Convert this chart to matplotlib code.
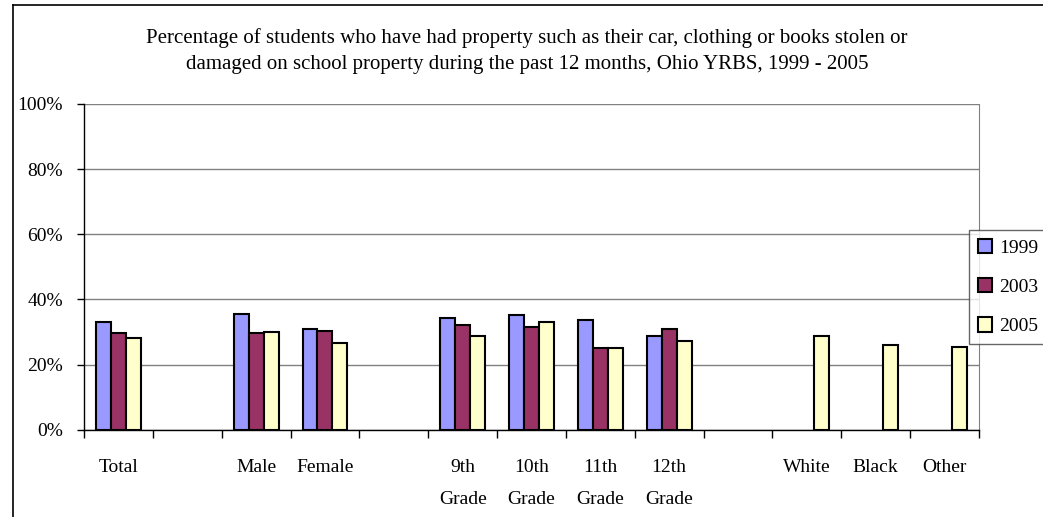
import numpy as np
import matplotlib.pyplot as plt
from matplotlib.lines import Line2D

# Data
categories = ["Total", "", "Male", "Female", "", "9th\nGrade", "10th\nGrade",
              "11th\nGrade", "12th\nGrade", "", "White", "Black", "Other"]
years = ["1999", "2003", "2005"]
v1999 = [33.2, np.nan, 35.6, 30.8, np.nan, 34.4, 35.2, 33.8, 28.9, np.nan, np.nan, np.nan, np.nan]
v2003 = [29.7, np.nan, 29.7, 30.2, np.nan, 32.1, 31.4, 25.1, 30.9, np.nan, np.nan, np.nan, np.nan]
v2005 = [28.3, np.nan, 30.1, 26.6, np.nan, 28.9, 33.2, 25.1, 27.1, np.nan, 28.9, 26.0, 25.4]
colors = ["#9999FF", "#993366", "#FFFFCC"]

plt.rcParams['font.family'] = ['Liberation Serif', 'DejaVu Serif']

fig = plt.figure(figsize=(10.43, 5.17), dpi=100)
ax = fig.add_axes([84 / 1043, 1 - 429.7 / 517, (979 - 84) / 1043, (429.7 - 104) / 517])

x = np.arange(len(categories))
w = 0.217
for i, (vals, c, lab) in enumerate(zip([v1999, v2003, v2005], colors, years)):
    ax.bar(x + (i - 1) * w, vals, width=w, color=c, edgecolor="black",
           linewidth=1.5, label=lab, zorder=3)

ax.set_xlim(-0.5, len(categories) - 0.5)
ax.set_ylim(0, 100)
ax.set_yticks(range(0, 101, 20))
ax.set_yticklabels([f"{v}%" for v in range(0, 101, 20)], fontsize=14)
ax.yaxis.grid(True, color="#808080", linewidth=1, zorder=0)

# category labels between boundary ticks
ax.set_xticks(np.arange(len(categories) + 1) - 0.5)
ax.set_xticklabels([])
ax.set_xticks(x, minor=True)
ax.set_xticklabels(categories, minor=True, fontsize=14, va="top", linespacing=2.2)
ax.tick_params(axis="x", which="minor", length=0, pad=21)
ax.tick_params(axis="x", which="major", length=6, direction="out", width=1)
ax.tick_params(axis="y", length=5, direction="out", width=1, pad=10)

ax.spines["top"].set_visible(False)
ax.spines["right"].set_color("#808080")
ax.spines["left"].set_linewidth(1)
ax.spines["bottom"].set_linewidth(1)

fig.text(527 / 1043, 1 - 38 / 517,
         "Percentage of students who have had property such as their car, clothing or books stolen or",
         ha="center", va="center", fontsize=15)
fig.text(527 / 1043, 1 - 64 / 517,
         "damaged on school property during the past 12 months, Ohio YRBS, 1999 - 2005",
         ha="center", va="center", fontsize=15)

# outer chart frame (extends past right/bottom edge)
fig.add_artist(Line2D([13 / 1043, 13 / 1043], [0, 1 - 5 / 517], color="black", linewidth=1.2))
fig.add_artist(Line2D([13 / 1043, 1], [1 - 5 / 517, 1 - 5 / 517], color="black", linewidth=1.2))

leg = fig.legend(loc="upper left", bbox_to_anchor=(969 / 1043, 1 - 230 / 517),
                 fontsize=14, frameon=True, fancybox=False, handlelength=0.75,
                 handleheight=0.75, labelspacing=1.1, handletextpad=0.35,
                 borderpad=0.45, borderaxespad=0)
leg.get_frame().set_edgecolor("#404040")
leg.get_frame().set_linewidth(1)

fig.savefig("out.png", dpi=100)
